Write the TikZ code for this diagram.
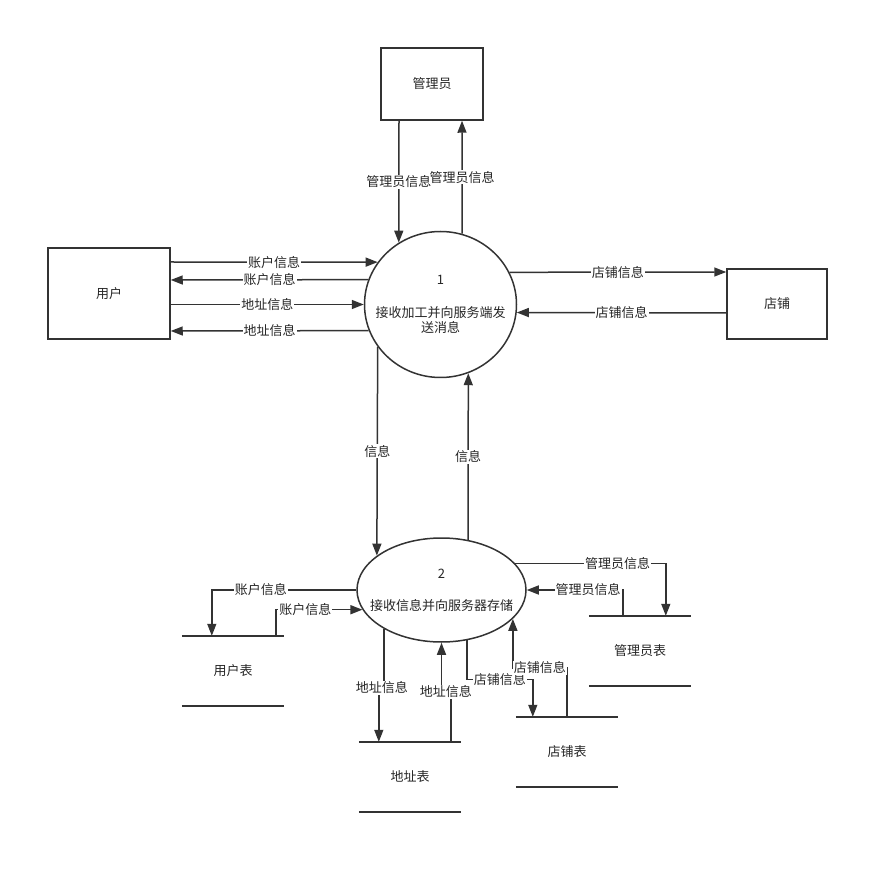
\documentclass[tikz,border=0pt]{standalone}
\usepackage{fontspec}
\usepackage{tikz}
\usetikzlibrary{shapes.geometric, arrows.meta}
\newfontfamily\cjk{Noto Sans CJK SC}

\begin{document}
\begin{tikzpicture}[x=1pt, y=-1pt, every node/.style={font={\cjk\fontsize{13}{15}\selectfont}, text=black!85}]
  \tikzstyle{entity} = [rectangle, draw=black!80, line width=1.5pt, text centered]
  \tikzstyle{process} = [ellipse, draw=black!80, line width=1.5pt, inner sep=0pt]
  \tikzstyle{store} = [rectangle, minimum width=102pt, minimum height=70pt, inner sep=0pt]
  \tikzstyle{storeline} = [draw=black!80, line width=1.5pt]
  \tikzstyle{arrow} = [draw=black!80, line width=1.5pt, -{Triangle[length=12pt,width=9pt]}]
  \tikzstyle{lbl} = [fill=white, inner sep=1pt]

  \useasboundingbox (0,0) rectangle (889,874);

  \node (gly) [entity, minimum width=102pt, minimum height=72pt] at (432,84) {管理员};
  \node (yh) [entity, minimum width=122pt, minimum height=91pt] at (109,293.5) {用户};
  \node (dp) [entity, minimum width=100pt, minimum height=70pt] at (777,304) {店铺};
  \node (c1) [process, minimum width=152pt, minimum height=146pt] at (440.5,304.5) {};
  \node (c1t) [align=center] at (c1) {1\\[18pt]接收加工并向服务端发\\送消息};
  \node (c2) [process, minimum width=169pt, minimum height=104pt] at (441.5,590) {};
  \node (c2t) [align=center] at (c2) {2\\[17pt]接收信息并向服务器存储};

  \node (yhb) [store] at (233,671) {用户表};
  \node (glb) [store] at (640,651) {管理员表};
  \node (dzb) [store] at (410,777) {地址表};
  \node (dpb) [store] at (567,752) {店铺表};
  \foreach \s in {yhb,glb,dzb,dpb}
    \draw [storeline] (\s.north west) -- (\s.north east) (\s.south west) -- (\s.south east);

  % 用户 <-> 1
  \draw [arrow] (yh.east |- 0,262) -- node[lbl] (a1) {账户信息} (c1.146);
  \draw [arrow] (c1.161) -- node[lbl] (a2) {账户信息} (yh.east |- 0,280);
  \draw [arrow] (yh.east |- c1.west) -- node[lbl] (a3) {地址信息} (c1.west);
  \draw [arrow] (c1.200) -- node[lbl] (a4) {地址信息} (yh.east |- 0,331);

  % 管理员 <-> 1
  \draw [arrow] (gly.south -| 399,0) -- node[lbl] (b1) {管理员信息} (c1.124);
  \draw [arrow] (c1.73) -- node[lbl] (b2) {管理员信息} (gly.south -| 462,0);

  % 店铺 <-> 1
  \draw [arrow] (c1.25) -- node[lbl] (d1) {店铺信息} (dp.west |- 0,272);
  \draw [arrow] (dp.west |- 0,313) -- node[lbl] (d2) {店铺信息} (c1.354);

  % 1 <-> 2
  \draw [arrow] (c1.214) -- node[lbl] (e1) {信息} (c2.152);
  \draw [arrow] (c2.62) -- node[lbl] (e2) {信息} (c1.292);

  % 2 <-> stores
  \draw [arrow] (c2.west) -| node[lbl, pos=0.33] (f1) {账户信息} ([xshift=30pt]yhb.north west);
  \draw [arrow] ([xshift=94pt]yhb.north west) |- node[lbl, pos=0.67] (f2) {账户信息} (c2.194);
  \draw [arrow] (c2.20) -| node[lbl, pos=0.34] (g1) {管理员信息} ([xshift=77pt]glb.north west);
  \draw [arrow] ([xshift=34pt]glb.north west) |- node[lbl, pos=0.68] (g2) {管理员信息} (c2.east);
  \draw [arrow] (c2.214) -- ++(0,59) node[lbl, xshift=-2pt] (h1) {地址信息} -| ([xshift=20pt]dzb.north west);
  \draw [arrow] ([xshift=92pt]dzb.north west) -- ++(0,-50) node[lbl, xshift=-5pt] (h2) {地址信息} -| (c2.south);
  \draw [arrow] (c2.297) -- ++(0,39) -| node[lbl, pos=0.25] (k1) {店铺信息} ([xshift=17pt]dpb.north west);
  \draw [arrow] ([xshift=51pt]dpb.north west) -- ++(0,-49) -| node[lbl, pos=0.25] (k2) {店铺信息} (c2.338);
\end{tikzpicture}
\end{document}
